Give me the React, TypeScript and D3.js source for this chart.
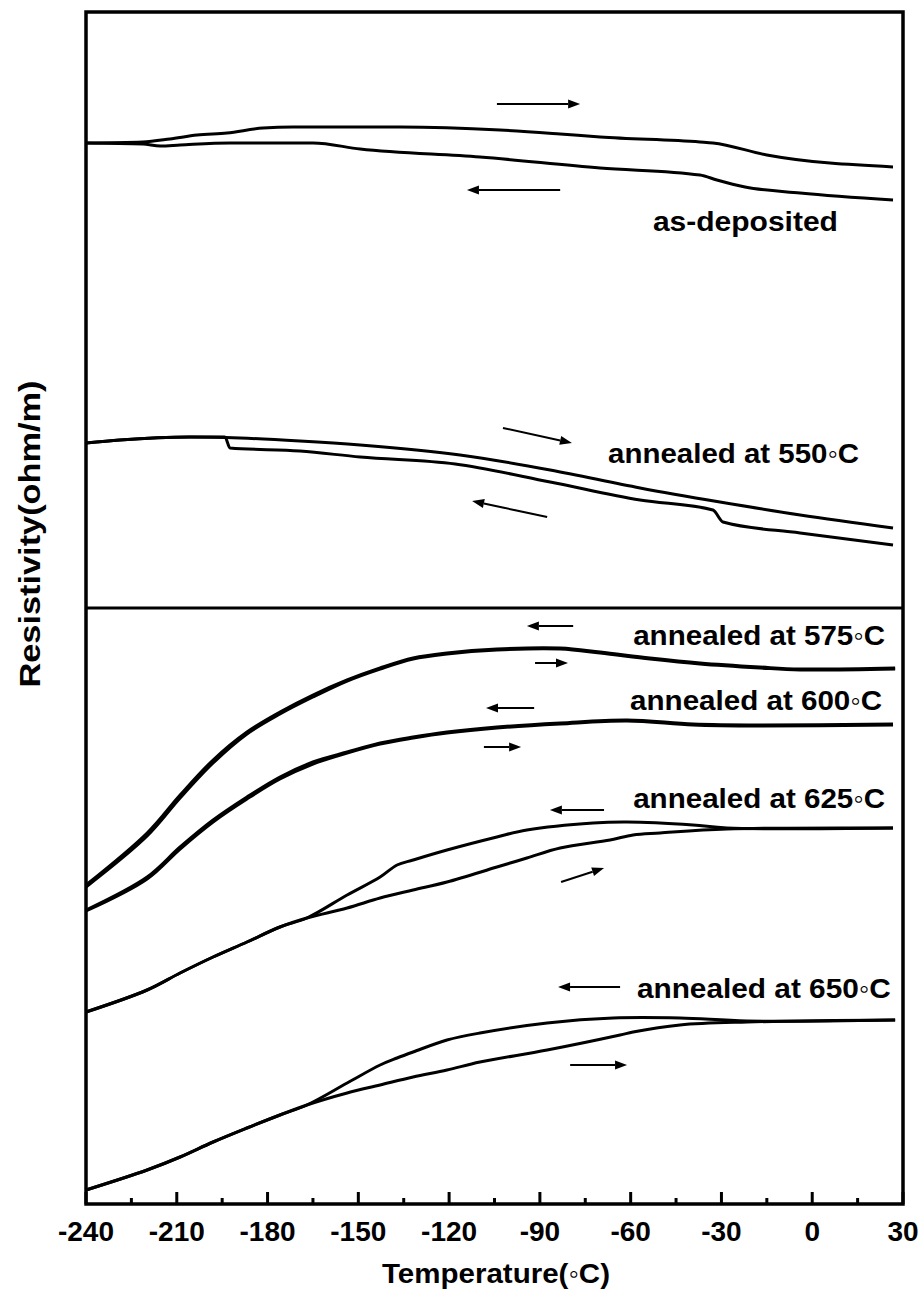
import React from "react";
import * as d3 from "d3";

type Pt = [number, number];

// Temperature (°C) vs resistivity (arbitrary units, curves offset for clarity)
const asDepHeating: Pt[] = [[-240,106.1],[-221.2,106.2],[-212.3,106.5],[-203.3,106.9],[-193.4,107.1],[-181.5,107.6],[-171.6,107.7],[-136.2,107.7],[-103.2,107.4],[-83.3,107.0],[-70.1,106.7],[-37.1,106.2],[-32.8,106.1],[-15.0,104.9],[26.7,103.7]];
const asDepCooling: Pt[] = [[-240,106.1],[-221.2,106.0],[-215.5,105.8],[-208.9,105.9],[-192.4,106.1],[-165.0,106.1],[-149.4,105.5],[-109.8,104.7],[-70.1,103.6],[-37.1,102.9],[-31.5,102.4],[-22.2,101.7],[-4.0,101.1],[26.7,100.4]];
const a550Heating: Pt[] = [[-240,76.1],[-228.8,76.4],[-205.6,76.7],[-189.1,76.6],[-169.3,76.3],[-149.4,75.9],[-116.4,74.9],[-86.6,73.4],[-56.9,71.6],[-30.5,70.2],[-4.0,68.9],[26.7,67.6]];
const a550Cooling: Pt[] = [[-240,76.1],[-228.8,76.4],[-205.6,76.7],[-194.1,76.7],[-192.4,75.6],[-169.3,75.3],[-149.4,74.7],[-118.0,74.0],[-86.6,72.2],[-56.9,70.4],[-32.8,69.4],[-29.5,68.2],[-4.0,67.1],[26.7,65.9]];
const a575Cooling: Pt[] = [[-240,31.9],[-219.8,37.1],[-208.9,40.9],[-198.0,44.4],[-186.8,47.2],[-175.9,49.2],[-165.0,50.9],[-153.7,52.4],[-142.8,53.6],[-131.9,54.6],[-120.7,55.1],[-104.2,55.5],[-83.3,55.6],[-70.1,55.2],[-53.6,54.6],[-37.1,54.1],[-17.3,53.7],[-4.0,53.5],[27.4,53.6]];
const a575Heating: Pt[] = [[-240,31.7],[-219.8,36.8],[-208.9,40.6],[-198.0,44.1],[-186.8,47.0],[-175.9,49.0],[-165.0,50.7],[-153.7,52.3],[-142.8,53.5],[-131.9,54.5],[-120.7,55.0],[-104.2,55.4],[-83.3,55.5],[-70.1,55.1],[-53.6,54.5],[-37.1,54.0],[-17.3,53.6],[-4.0,53.4],[27.4,53.5]];
const a600Cooling: Pt[] = [[-240,29.4],[-219.8,32.7],[-208.9,35.7],[-198.0,38.4],[-186.8,40.7],[-175.9,42.7],[-165.0,44.2],[-153.7,45.2],[-142.8,46.1],[-131.9,46.7],[-120.7,47.2],[-104.2,47.7],[-83.3,48.1],[-61.2,48.4],[-39.4,48.0],[-17.3,47.9],[26.7,48.0]];
const a600Heating: Pt[] = [[-240,29.3],[-219.8,32.5],[-208.9,35.5],[-198.0,38.2],[-186.8,40.5],[-175.9,42.5],[-165.0,44.0],[-153.7,45.1],[-142.8,46.0],[-131.9,46.6],[-120.7,47.1],[-104.2,47.6],[-83.3,48.0],[-61.2,48.3],[-39.4,47.9],[-17.3,47.8],[26.7,47.9]];
const a625Cooling: Pt[] = [[-240,19.2],[-219.8,21.4],[-208.9,23.1],[-198.0,24.7],[-186.8,26.2],[-175.9,27.7],[-167.0,28.6],[-153.7,30.9],[-142.8,32.7],[-137.2,33.9],[-131.9,34.4],[-120.7,35.4],[-104.2,36.7],[-94.3,37.4],[-72.4,38.1],[-61.2,38.2],[-39.4,37.9],[-28.2,37.6],[26.7,37.6]];
const a625Heating: Pt[] = [[-240,19.2],[-219.8,21.4],[-208.9,23.1],[-198.0,24.7],[-186.8,26.2],[-175.9,27.7],[-167.0,28.6],[-153.7,29.6],[-142.8,30.6],[-131.9,31.4],[-120.7,32.2],[-104.2,33.7],[-94.3,34.6],[-83.3,35.6],[-66.8,36.4],[-59.2,36.9],[-50.3,37.1],[-28.2,37.5],[26.7,37.6]];
const a650Cooling: Pt[] = [[-240,1.4],[-219.8,3.4],[-208.9,4.7],[-198.0,6.2],[-186.8,7.6],[-175.9,8.9],[-167.0,9.9],[-153.7,12.1],[-142.8,13.9],[-137.2,14.6],[-131.9,15.2],[-120.7,16.4],[-109.8,17.1],[-87.6,18.1],[-65.8,18.6],[-43.7,18.6],[-21.5,18.3],[27.4,18.4]];
const a650Heating: Pt[] = [[-240,1.4],[-219.8,3.4],[-208.9,4.7],[-198.0,6.2],[-186.8,7.6],[-175.9,8.9],[-167.0,9.9],[-153.7,11.1],[-142.8,11.9],[-131.9,12.7],[-120.7,13.4],[-109.8,14.2],[-87.6,15.4],[-63.5,16.9],[-59.2,17.2],[-43.7,17.9],[-21.5,18.2],[27.4,18.4]];

const topSeries: Pt[][] = [asDepHeating, asDepCooling, a550Heating, a550Cooling];
const bottomSeries: Pt[][] = [
  a575Cooling, a575Heating, a600Cooling, a600Heating,
  a625Cooling, a625Heating, a650Cooling, a650Heating,
];

// arrows: [fromT, fromR, toT, toR] (head at "to")
const arrows: [number, number, number, number][] = [
  [-104.2, 110.0, -76.7, 110.0],
  [-83.3, 101.4, -114.1, 101.4],
  [-102.2, 77.6, -79.4, 76.1],
  [-87.6, 68.7, -112.4, 70.3],
  [-79.0, 57.8, -94.3, 57.8],
  [-91.6, 54.1, -80.7, 54.1],
  [-91.9, 49.6, -107.8, 49.6],
  [-108.5, 45.7, -96.2, 45.7],
  [-68.8, 39.4, -86.7, 39.4],
  [-83.0, 32.2, -68.8, 33.6],
  [-63.5, 21.7, -84.0, 21.7],
  [-80.0, 13.9, -61.2, 13.9],
];

const labels = ["as-deposited", "annealed at 550◦C", "annealed at 575◦C", "annealed at 600◦C", "annealed at 625◦C", "annealed at 650◦C"];
const labelEndT = [8.5, 15.5, 24.1, 23.1, 24.1, 26.0];
const labelBaseR = [97.3, 74.1, 55.9, 49.4, 39.6, 20.6];
const labelWidths = [185, 251, 252, 252, 252, 254];

const xTicks = [-240, -210, -180, -150, -120, -90, -60, -30, 0, 30];
const xMinorTicks = [-225, -195, -165, -135, -105, -75, -45, -15, 15];
const panelSplitR = 59.6;

const W = 922, H = 1302;
const L = 86, R = 903, T = 12, B = 1204;
const FONT = "'Liberation Sans', Arial, Helvetica, sans-serif";

export default function App() {
  const x = d3.scaleLinear().domain([-240, 30]).range([L, R]);
  const y = d3.scaleLinear().domain([0, 119.2]).range([B, T]);
  const lineTop = d3.line<Pt>().x(d => x(d[0])).y(d => y(d[1])).curve(d3.curveMonotoneX);
  const lineBottom = d3.line<Pt>().x(d => x(d[0])).y(d => y(d[1])).curve(d3.curveCatmullRom.alpha(0.5));

  const arrowEls = arrows.map((a, i) => {
    const x1 = x(a[0]), y1 = y(a[1]), x2 = x(a[2]), y2 = y(a[3]);
    const ang = Math.atan2(y2 - y1, x2 - x1);
    const hl = 12, hw = 4.5;
    const bx = x2 - hl * Math.cos(ang), by = y2 - hl * Math.sin(ang);
    const px = -Math.sin(ang) * hw, py = Math.cos(ang) * hw;
    const pts = `${x2},${y2} ${bx + px},${by + py} ${bx - px},${by - py}`;
    return (
      <g key={i}>
        <line x1={x1} y1={y1} x2={bx} y2={by} stroke="#000" strokeWidth={2} />
        <polygon points={pts} fill="#000" />
      </g>
    );
  });

  return (
    <svg width={W} height={H} style={{ position: "absolute", left: 0, top: 0, background: "#fff" }} fontFamily={FONT}>
      <rect x={0} y={0} width={W} height={H} fill="#fff" />
      {topSeries.map((s, i) => (
        <path key={"t" + i} d={lineTop(s) || ""} fill="none" stroke="#000" strokeWidth={3} strokeLinejoin="round" />
      ))}
      {bottomSeries.map((s, i) => (
        <path key={"b" + i} d={lineBottom(s) || ""} fill="none" stroke="#000" strokeWidth={3} strokeLinejoin="round" />
      ))}
      {arrowEls}
      {labels.map((t, i) => (
        <text key={i} x={x(labelEndT[i]) - labelWidths[i]} y={y(labelBaseR[i])} fontSize={28} fontWeight="bold"
          textLength={labelWidths[i]} lengthAdjust="spacingAndGlyphs" fill="#000">{t}</text>
      ))}
      {/* panel divider */}
      <line x1={L} x2={R} y1={y(panelSplitR)} y2={y(panelSplitR)} stroke="#000" strokeWidth={3} />
      {/* frame */}
      <rect x={L} y={T} width={R - L} height={B - T} fill="none" stroke="#000" strokeWidth={3.5} />
      {/* ticks */}
      {xTicks.map(t => (
        <line key={"M" + t} x1={x(t)} x2={x(t)} y1={B} y2={B - 12} stroke="#000" strokeWidth={3} />
      ))}
      {xMinorTicks.map(t => (
        <line key={"m" + t} x1={x(t)} x2={x(t)} y1={B} y2={B - 6} stroke="#000" strokeWidth={3} />
      ))}
      {xTicks.map(t => (
        <text key={"l" + t} x={x(t)} y={1241} textAnchor="middle" fontSize={28} fontWeight="bold" fill="#000">{t}</text>
      ))}
      <text x={496} y={1283} textAnchor="middle" fontSize={28} fontWeight="bold" textLength={228} lengthAdjust="spacingAndGlyphs">Temperature(◦C)</text>
      <text transform={`translate(40,534) rotate(-90)`} textAnchor="middle" fontSize={29} fontWeight="bold" textLength={307} lengthAdjust="spacingAndGlyphs">Resistivity(ohm/m)</text>
    </svg>
  );
}
